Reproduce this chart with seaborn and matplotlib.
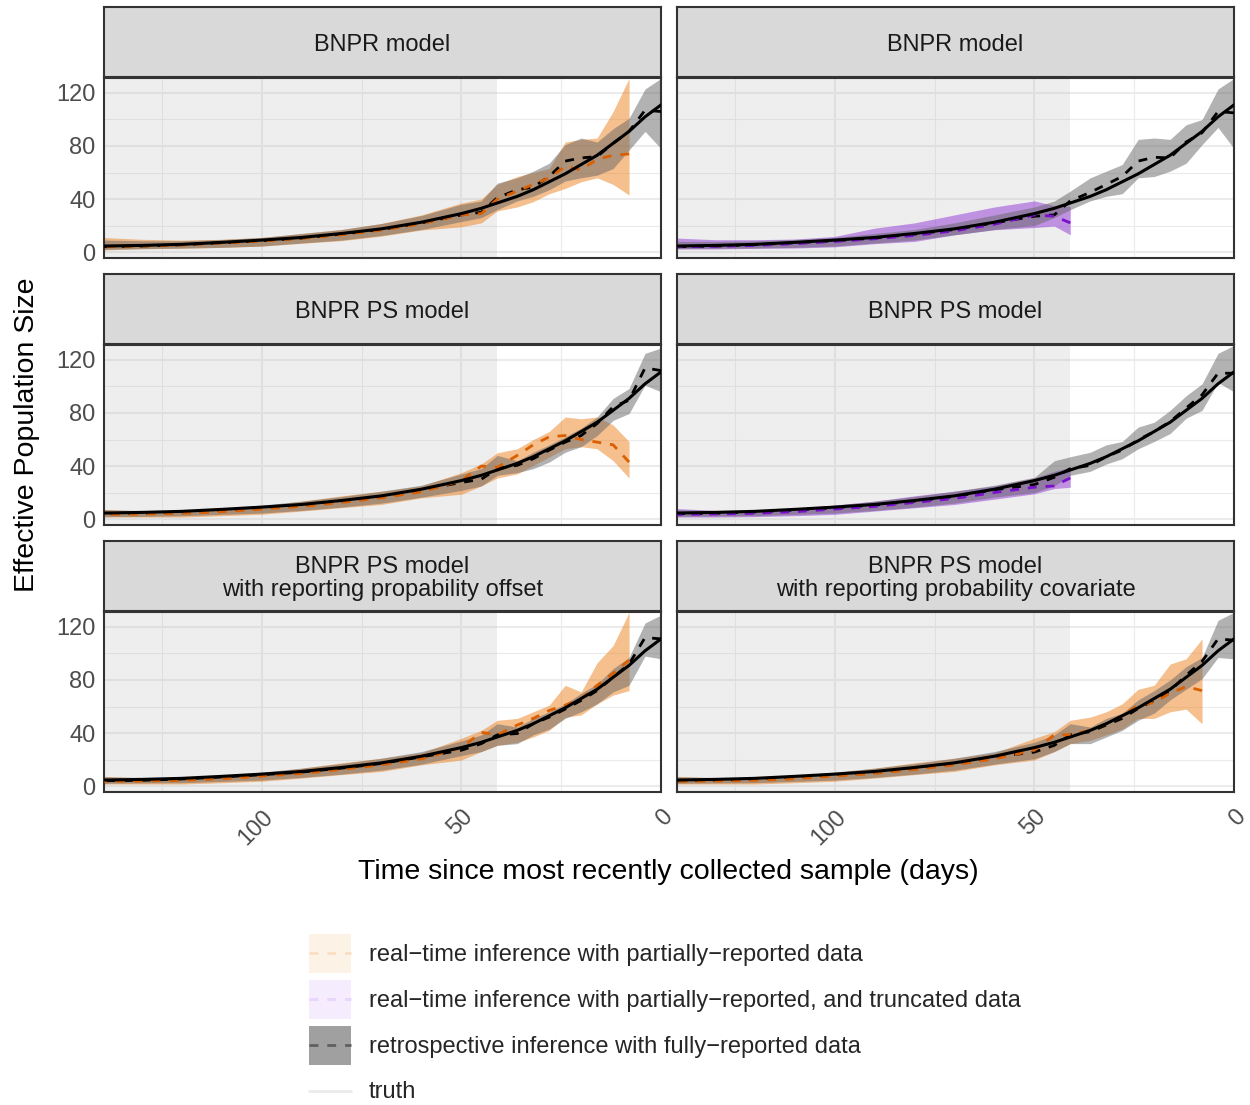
import numpy as np
import matplotlib
matplotlib.use("Agg")
import matplotlib.pyplot as plt
import seaborn as sns
from matplotlib.patches import Patch
from matplotlib.lines import Line2D
from matplotlib.legend_handler import HandlerTuple, HandlerLine2D
from matplotlib.ticker import FixedLocator

# ---------------- data ----------------
days = [140, 130, 120, 110, 100, 90, 80, 70, 60, 50, 45, 41, 36, 32, 28, 24, 20, 16, 12, 8, 4, 0]
truth = [4.5, 5, 5.8, 7.3, 9, 11, 14, 17.5, 22.5, 29, 33, 37, 42, 47, 53, 59, 66, 73, 82, 91, 102, 111]

# panel 1: BNPR model (partially reported, orange)
p1_retro_med = [4, 4.5, 5.5, 7, 8.5, 10.5, 13.5, 17, 22, 28, 30, 41, 47, 49, 57, 68.6, 71, 72, 82, 91, 107, 106]
p1_retro_lo = [2, 2.5, 3, 3.5, 4.5, 6.8, 9, 12.5, 17, 23, 26, 32, 38.6, 42, 47, 53.6, 56, 58, 63, 77, 91, 78]
p1_retro_hi = [9, 8.5, 8.5, 9.5, 11, 14, 17, 21.5, 27.5, 36, 38.5, 52, 56, 61, 67, 81, 86, 83, 93, 101, 123, 131]
p1_rt_med = [4, 4.5, 5.3, 6.8, 8.3, 10.3, 13, 16.5, 21.5, 28, 29, 40, 46, 51, 56, 64.6, 62, 70, 73, 74]
p1_rt_lo = [1.5, 2.5, 2.8, 3.5, 4.5, 6.6, 8.6, 12, 16.6, 19, 22, 31, 34, 38, 44, 48, 53, 56, 51, 43]
p1_rt_hi = [11, 9.6, 9, 9.6, 11, 14, 17, 21.6, 28, 37, 40, 51, 57, 60, 63, 83, 85, 86, 106, 131]

# panel 2: BNPR model (truncated, purple)
p2_retro_med = [4, 4.5, 5.5, 7, 8.5, 10.5, 13.5, 17, 22, 27, 28, 38.6, 45, 51, 57, 68.6, 71.5, 71, 83, 90, 106, 105]
p2_retro_lo = [2.5, 2.8, 3, 3.5, 4.5, 6.8, 9, 13, 17, 20, 26, 32, 38.6, 42, 44, 56, 57, 61, 67, 81, 94, 78]
p2_retro_hi = [8, 8, 8.5, 9.5, 11, 14, 17, 22, 28, 34, 38.5, 46, 56, 61, 66, 85, 86, 85, 96, 100, 123, 131]
p2_rt_med = [4, 4.3, 5, 6.3, 8, 10, 12.5, 16, 21, 28, 27, 22]
p2_rt_lo = [2.3, 2.3, 2.8, 3, 3.9, 6.3, 8, 13, 16.8, 18.5, 19.6, 13]
p2_rt_hi = [10.6, 9.3, 9.3, 9.8, 11.8, 18, 22, 28, 34, 38.6, 35, 34.5]

# panel 3: BNPR PS model (orange)
p3_retro_med = [4, 4.3, 5.3, 6.8, 8.5, 10.5, 13.5, 17, 22, 27.6, 30, 38, 40.5, 45.5, 52, 58, 63, 72, 84.7, 89.6, 114, 112]
p3_retro_lo = [1.8, 2, 2.5, 3.5, 4.5, 6.5, 9, 12, 16.5, 21.6, 25, 33, 35, 38, 43, 50.4, 54.6, 63, 74.4, 79.6, 101, 96]
p3_retro_hi = [7, 6.5, 6.5, 8, 10.5, 13.5, 17, 21, 25.5, 34, 38, 48, 44, 50.4, 56, 62, 68.6, 77, 91, 98.5, 125, 129]
p3_rt_med = [3.5, 3.8, 4.3, 5.5, 7.5, 9.5, 12.5, 16, 20.5, 29, 40, 39, 48, 56, 62, 63, 60, 58, 56, 43]
p3_rt_lo = [1.5, 1.5, 1.5, 2.5, 3.6, 6, 8.6, 11, 16, 18.7, 25, 31, 34, 40.5, 46.8, 53, 54.6, 53, 44, 31]
p3_rt_hi = [7.4, 6, 5.6, 7.5, 9.9, 13.5, 17.5, 21, 25, 35, 41.5, 50, 53, 60, 66, 77, 75.6, 77, 71, 58.5]

# panel 4: BNPR PS model (truncated, purple)
p4_retro_med = [4, 4.3, 5.3, 6.8, 8.5, 10.5, 13.5, 17, 22, 26, 31.5, 38, 40.5, 47, 52, 59.7, 66, 73.5, 83.7, 93.7, 110, 110]
p4_retro_lo = [2, 2.3, 2.5, 3.5, 4.5, 6.5, 9, 12, 16.5, 20, 25, 33, 36, 41.5, 45.5, 53, 58.5, 64.5, 76, 82, 103, 96]
p4_retro_hi = [7, 6.5, 6.5, 8, 10.5, 13.5, 17, 21, 25.5, 31.5, 44, 47, 50.4, 56, 58.5, 69.4, 73, 82, 93, 102, 125, 131]
p4_rt_med = [3.5, 3.8, 4.3, 5.5, 7.5, 9.5, 12.5, 15.5, 20, 24, 25, 31]
p4_rt_lo = [1.5, 1.5, 1.8, 2.5, 3.5, 6, 8.5, 11, 15, 19, 23, 24]
p4_rt_hi = [8, 6.5, 6.5, 8, 10.5, 13.5, 17.5, 21, 25, 31, 36, 39]

# panel 5: BNPR PS model with offset (orange)
p5_retro_med = [4, 4.3, 5.3, 6.8, 8.5, 10.5, 13.5, 17, 22, 27, 32, 38.6, 39.6, 47, 52, 58, 64.6, 72, 82, 92, 112, 111]
p5_retro_lo = [2, 2.3, 2.5, 3.5, 4.5, 6.5, 9, 12, 16.5, 23, 26, 30.7, 32, 38.6, 43, 51, 56, 62, 71, 76, 98, 96]
p5_retro_hi = [7, 6.5, 6.5, 8, 10.5, 13.5, 17, 21, 26, 34, 38.5, 47, 44.5, 51, 56, 62, 70, 77, 88.5, 97, 123, 129]
p5_rt_med = [3.5, 3.8, 4.3, 5.5, 7.5, 9.5, 12.5, 16, 20.5, 29, 40.5, 38.6, 46, 51, 57, 61, 66, 76, 85, 95]
p5_rt_lo = [1.5, 1.5, 1.5, 2.5, 3.6, 6, 8.6, 11, 16, 19.6, 26, 30.7, 33, 37, 42, 52, 53.6, 62, 68.6, 72]
p5_rt_hi = [7.4, 6, 5.6, 7.5, 9.9, 13.5, 17.5, 21, 25, 36, 42, 49.6, 51, 56, 61, 76, 71, 93, 106, 131]

# panel 6: BNPR PS model with covariate (orange)
p6_retro_med = [4, 4.3, 5.3, 6.8, 8.5, 10.5, 13.5, 17, 22, 25.6, 30.7, 38.6, 41, 46, 51, 58.5, 64.6, 72, 83.5, 94, 111, 110]
p6_retro_lo = [2, 2.3, 2.5, 3.5, 4.5, 6.5, 9, 12, 16.5, 20.6, 26, 32, 32, 37, 42, 49.6, 55, 65, 73, 81, 97, 96]
p6_retro_hi = [7, 6.5, 6.5, 8, 10.5, 13.5, 17, 21, 26, 33, 38.5, 47, 44.5, 51, 55, 65, 72, 80, 90, 97, 125, 131]
p6_rt_med = [3.5, 3.8, 4.3, 5.5, 7.5, 9.5, 12.5, 16, 20.5, 27, 38.6, 38.6, 42, 47, 53, 61, 63, 70, 75, 72]
p6_rt_lo = [1.5, 1.5, 1.5, 2.5, 3.6, 6, 8.6, 11, 16, 19.6, 26, 32, 34.5, 38.6, 43, 51, 51, 56, 58, 47]
p6_rt_hi = [7.4, 6, 5.6, 7.5, 9.9, 13.5, 17.5, 21, 25, 36, 41, 49.6, 52, 56, 62, 73, 76, 92, 96, 111]

strip_titles = ["BNPR model", "BNPR model", "BNPR PS model", "BNPR PS model",
                "BNPR PS model\nwith reporting propability offset",
                "BNPR PS model\nwith reporting probability covariate"]
x_ticks = [100, 50, 0]
y_ticks = [0, 40, 80, 120]
legend_labels = ["real\u2212time inference with partially\u2212reported data",
                 "real\u2212time inference with partially\u2212reported, and truncated data",
                 "retrospective inference with fully\u2212reported data",
                 "truth"]
realtime_cutoff = 41

# ---------------- style ----------------
sns.set_theme(style="white")
plt.rcParams['font.family'] = ['Liberation Sans', 'DejaVu Sans']

ORANGE_FILL = "#ED811F"
ORANGE_LINE = "#D95F02"
PURPLE_FILL = "#9035D6"
PURPLE_LINE = "#7A10CC"
GREY_FILL = "#666666"
DASH = (0, (3.2, 3.2))

panels = [
    (p1_retro_med, p1_retro_lo, p1_retro_hi, p1_rt_med, p1_rt_lo, p1_rt_hi, "orange"),
    (p2_retro_med, p2_retro_lo, p2_retro_hi, p2_rt_med, p2_rt_lo, p2_rt_hi, "purple"),
    (p3_retro_med, p3_retro_lo, p3_retro_hi, p3_rt_med, p3_rt_lo, p3_rt_hi, "orange"),
    (p4_retro_med, p4_retro_lo, p4_retro_hi, p4_rt_med, p4_rt_lo, p4_rt_hi, "purple"),
    (p5_retro_med, p5_retro_lo, p5_retro_hi, p5_rt_med, p5_rt_lo, p5_rt_hi, "orange"),
    (p6_retro_med, p6_retro_lo, p6_retro_hi, p6_rt_med, p6_rt_lo, p6_rt_hi, "orange"),
]

W, H = 1250, 1105
fig = plt.figure(figsize=(W / 100, H / 100), dpi=100)

col_x = [104, 677]
col_w = 557
rows_panel = [(78, 258), (345, 525), (612, 792)]
rows_strip = [(7, 77), (274, 344), (541, 611)]


def fig_rect(x0, y0, x1, y1):
    return [x0 / W, 1 - y1 / H, (x1 - x0) / W, (y1 - y0) / H]


for i, (rmed, rlo, rhi, tmed, tlo, thi, kind) in enumerate(panels):
    r, c = divmod(i, 2)
    x0 = col_x[c]
    py0, py1 = rows_panel[r]
    sy0, sy1 = rows_strip[r]

    # strip
    sax = fig.add_axes(fig_rect(x0, sy0, x0 + col_w, sy1))
    sax.set_facecolor("#D9D9D9")
    sax.set_xticks([]); sax.set_yticks([])
    for sp in sax.spines.values():
        sp.set_color("#333333"); sp.set_linewidth(1.5); sp.set_visible(True)
    sax.text(0.5, 0.46, strip_titles[i], ha="center", va="center", fontsize=17,
             color="#1A1A1A", linespacing=1.08, transform=sax.transAxes)

    ax = fig.add_axes(fig_rect(x0, py0, x0 + col_w, py1))
    ax.set_facecolor("white")
    ax.set_xlim(139.5, 0)
    ax.set_ylim(-4.5, 131.3)
    ax.set_axisbelow(True)
    ax.xaxis.set_major_locator(FixedLocator(x_ticks))
    ax.xaxis.set_minor_locator(FixedLocator([125, 75, 25]))
    ax.yaxis.set_major_locator(FixedLocator(y_ticks))
    ax.yaxis.set_minor_locator(FixedLocator([20, 60, 100]))
    ax.grid(which="major", color="#EBEBEB", lw=1.5)
    ax.grid(which="minor", color="#EBEBEB", lw=0.8)
    ax.axvspan(139.5, realtime_cutoff, color="#BEBEBE", alpha=0.25, lw=0, zorder=0.8)

    n = len(tmed)
    fill_c = ORANGE_FILL if kind == "orange" else PURPLE_FILL
    line_c = ORANGE_LINE if kind == "orange" else PURPLE_LINE
    ax.fill_between(days[:n], tlo, thi, color=fill_c, alpha=0.5, lw=0, zorder=2)
    ax.fill_between(days, rlo, rhi, color=GREY_FILL, alpha=0.5, lw=0, zorder=2.1)

    sns.lineplot(x=days, y=rmed, ax=ax, color="black", lw=2.0, linestyle=DASH,
                 legend=False, zorder=3)
    sns.lineplot(x=days[:n], y=tmed, ax=ax, color=line_c, lw=2.0, linestyle=DASH,
                 legend=False, zorder=3.1)
    sns.lineplot(x=days, y=truth, ax=ax, color="black", lw=2.2, legend=False, zorder=3.2)
    ax.set_xlabel(""); ax.set_ylabel("")

    for sp in ax.spines.values():
        sp.set_color("#333333"); sp.set_linewidth(1.5); sp.set_visible(True)

    ax.tick_params(which="minor", length=0)
    ax.tick_params(axis="both", which="major", length=4, width=1.3, color="#333333",
                   labelsize=17, labelcolor="#4D4D4D", pad=2)
    if c == 0:
        ax.set_yticklabels([str(v) for v in y_ticks])
    else:
        ax.tick_params(axis="y", length=0, labelleft=False)
    if r == 2:
        ax.set_xticklabels([str(v) for v in x_ticks], rotation=45, ha="right", va="top",
                           rotation_mode="anchor")
        ax.tick_params(axis="x", pad=6)
    else:
        ax.tick_params(axis="x", length=0, labelbottom=False)

fig.text(27 / W, 1 - 435 / H, "Effective Population Size", rotation=90, ha="center",
         va="center", fontsize=20.5, color="black")
fig.text(668 / W, 1 - 872 / H, "Time since most recently collected sample (days)",
         ha="center", va="center", fontsize=20.5, color="black")


class CenteredLine(HandlerLine2D):
    def create_artists(self, legend, orig_handle, xdescent, ydescent, width, height,
                       fontsize, trans):
        artists = super().create_artists(legend, orig_handle, xdescent, ydescent,
                                         width, height, fontsize, trans)
        for a in artists:
            if isinstance(a, Line2D):
                yd = np.asarray(a.get_ydata(), dtype=float)
                a.set_ydata(np.full_like(yd, height / 2 - ydescent))
        return artists


handles = [
    (Patch(facecolor="#FDF2E6", edgecolor="none"),
     Line2D([], [], color="#F9DEC4", lw=2, linestyle=DASH)),
    (Patch(facecolor="#F5ECFD", edgecolor="none"),
     Line2D([], [], color="#E8D5FB", lw=2, linestyle=DASH)),
    (Patch(facecolor="#A0A0A0", edgecolor="none"),
     Line2D([], [], color="#5F5F5F", lw=2, linestyle=DASH)),
    Line2D([], [], color="#EBEBEB", lw=2),
]
fig.legend(handles, legend_labels, loc="upper left",
           bbox_to_anchor=(309 / W, 1 - 934 / H), frameon=False, fontsize=17,
           handlelength=1.78, handleheight=2.15, handletextpad=0.76,
           labelspacing=0.3, borderpad=0, borderaxespad=0,
           handler_map={tuple: HandlerTuple(ndivide=1, pad=0), Line2D: CenteredLine()})

fig.savefig("out.png", dpi=100)
